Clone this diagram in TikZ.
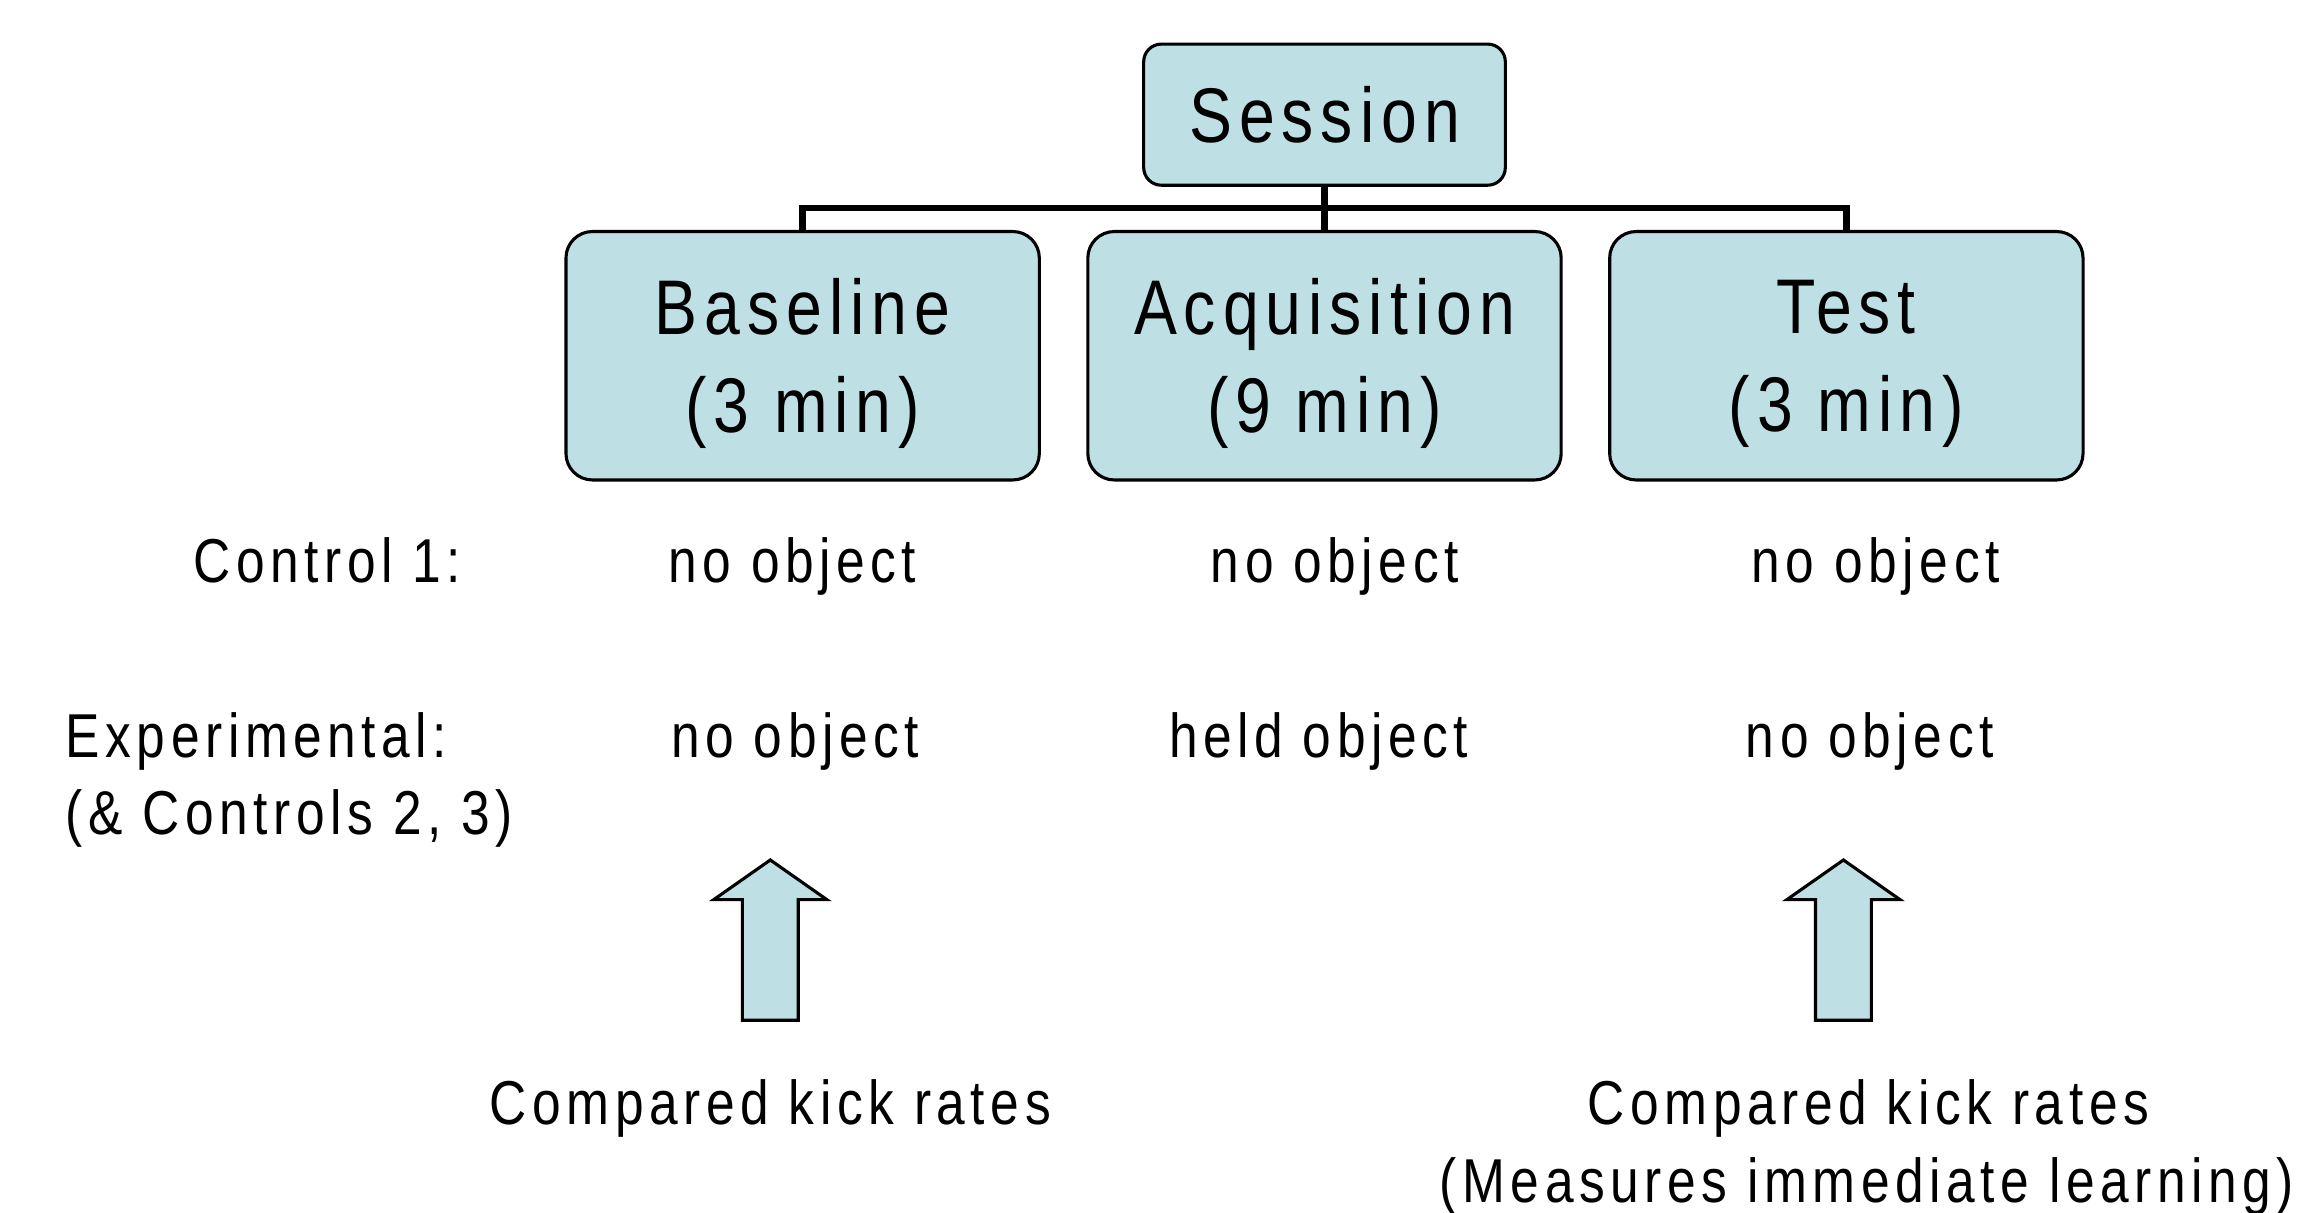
\documentclass[tikz,border=0pt]{standalone}
\usepackage{fontspec}
\setmainfont{Liberation Sans}[FakeStretch=0.83,LetterSpace=9]
\definecolor{boxblue}{RGB}{190,224,228}
\begin{document}
\begin{tikzpicture}[
  phase/.style={draw,line width=0.6pt,fill=boxblue,rounded corners=0.18cm,
    minimum width=3.22cm,minimum height=1.69cm,align=center,inner sep=0pt,
    text depth=-3.6pt,font=\fontsize{15pt}{19pt}\selectfont},
  topbox/.style={phase,rounded corners=0.12cm,minimum width=2.46cm,minimum height=0.96cm},
  txt/.style={inner sep=0pt,font=\fontsize{12pt}{15pt}\selectfont},
  link/.style={line width=1.3pt},
  uparrow/.style={draw,line width=0.6pt,fill=boxblue,line join=miter}
]
\useasboundingbox (0,0) rectangle (15.68,8.25);
% session and its three phases
\node[topbox,text depth=-0.5pt] (session) at (9.01,7.47) {Session};
\node[phase] (base) at (5.46,5.83) {Baseline\\(3 min)};
\node[phase] (acq) at (9.01,5.83) {Acquisition\\(9 min)};
\node[phase] (test) at (12.56,5.83) {Test\\(3 min)};
\draw[link] (session.south) -- (acq.north);
\draw[link] (base.north) -- ++(0,0.15) -| (test.north);
% conditions
\node[txt,anchor=base west] (ctrl) at (1.31,4.29) {Control 1:};
\node[txt,anchor=base] (ctrlA) at (5.39,4.29) {no object};
\node[txt,anchor=base] (ctrlB) at (9.08,4.29) {no object};
\node[txt,anchor=base] (ctrlC) at (12.76,4.29) {no object};
\node[txt,anchor=base west] (expt) at (0.44,3.10) {Experimental:};
\node[txt,anchor=base west] (expt2) at (0.44,2.57) {(\& Controls 2, 3)};
\node[txt,anchor=base] (exptA) at (5.41,3.10) {no object};
\node[txt,anchor=base] (exptB) at (8.97,3.10) {held object};
\node[txt,anchor=base] (exptC) at (12.72,3.10) {no object};
% block arrows
\foreach \x in {5.24,12.54}
  \filldraw[uparrow] (\x,2.40) -- (\x+0.385,2.13) -- (\x+0.19,2.13) -- (\x+0.19,1.31)
    -- (\x-0.19,1.31) -- (\x-0.19,2.13) -- (\x-0.385,2.13) -- cycle;
\node[txt,anchor=base] (cmpA) at (5.24,0.60) {Compared kick rates};
\node[txt,anchor=base] (cmpB) at (12.71,0.60) {Compared kick rates};
\node[txt,anchor=base] (cmpB2) at (12.70,0.07) {(Measures immediate learning)};
\end{tikzpicture}
\end{document}
